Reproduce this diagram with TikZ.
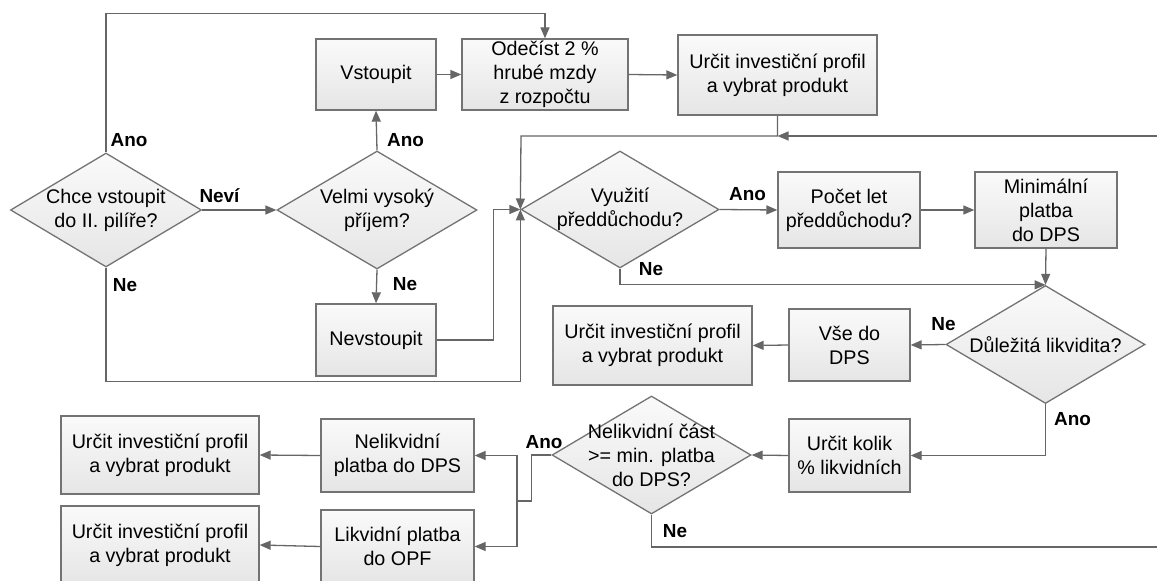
\documentclass[tikz,border=0pt]{standalone}
\usepackage{fontspec}
\setmainfont{Liberation Sans}
\usetikzlibrary{positioning, shapes.geometric, arrows.meta}
\definecolor{frame}{HTML}{737373}
\definecolor{wire}{HTML}{666666}

\begin{document}
\begin{tikzpicture}[x=1bp, y=-1bp, line width=1.3bp, >={Triangle[length=11bp, width=9bp]},
  every node/.style={font=\fontsize{19.8}{24}\selectfont},
  box/.style = {draw=frame, top color=white!98!black, bottom color=white!90!black, align=center, inner sep=0pt},
  dec/.style = {draw=frame, diamond, top color=white!98!black, bottom color=white!90!black, inner sep=0pt, minimum width=199bp, minimum height=118bp},
  lab/.style = {font=\fontsize{19}{20}\selectfont\bfseries, inner sep=0pt},
  wire/.style = {draw=wire}]
\clip (0,0) rectangle (1157,581);

% first decision
\node[dec, minimum width=191bp, minimum height=114bp, label={[align=center]center:{Chce vstoupit\\do II. pilíře?}}] (chce) at (106,210) {};
\node[dec, minimum width=200bp, label={[align=center]center:{Velmi vysoký\\příjem?}}] (prijem) at (377,210) {};
\node[box, minimum width=120bp, minimum height=71bp] (vst) at (376,74.5) {Vstoupit};
\node[box, minimum width=120bp, minimum height=72bp] (nevst) at (376,340) {Nevstoupit};
\node[box, minimum width=166bp, minimum height=71bp] (odec) at (545,74.5) {Odečíst 2 \%\\hrubé mzdy\\z rozpočtu};
\node[box, minimum width=199bp, minimum height=80bp] (prof1) at (777.5,75) {Určit investiční profil\\a vybrat produkt};

% preddûchod
\node[dec, minimum width=198bp, minimum height=117bp, label={[align=center]center:{Využití\\předdůchodu?}}] (preddu) at (620,209.5) {};
\node[box, minimum width=142bp, minimum height=76bp] (pocet) at (849,210) {Počet let\\předdůchodu?};
\node[box, minimum width=142bp, minimum height=76bp] (minpl) at (1046,210) {Minimální\\platba\\do DPS};

% likvidita
\node[dec, label={[align=center]center:{Důležitá likvidita?}}] (likv) at (1045.5,344.5) {};
\node[box, minimum width=121bp, minimum height=72bp] (vse) at (849.5,345) {Vše do\\DPS};
\node[box, minimum width=199bp, minimum height=79bp] (prof2) at (652.5,345.5) {Určit investiční profil\\a vybrat produkt};
\node[box, minimum width=121bp, minimum height=73bp] (kolik) at (849.5,455.5) {Určit kolik\\\% likvidních};
\node[dec, label={[align=center]center:{Nelikvidní část\\>= min. platba\\do DPS?}}] (nelik) at (651.5,455) {};
\node[box, minimum width=153bp, minimum height=73bp] (nlpl) at (397.5,455.5) {Nelikvidní\\platba do DPS};
\node[box, minimum width=153bp, minimum height=73bp] (lkpl) at (397.5,546.5) {Likvidní platba\\do OPF};
\node[box, minimum width=198bp, minimum height=78bp] (prof3) at (160,455) {Určit investiční profil\\a vybrat produkt};
\node[box, minimum width=198bp, minimum height=78bp] (prof4) at (160,545) {Určit investiční profil\\a vybrat produkt};

\coordinate (topc) at (521,136);
\coordinate (re1) at (1157,136);
\coordinate (re2) at (1157,547);
\coordinate (jn) at (517,501);

\draw[wire, ->] (chce.north) -- ++(0,-139) -| (odec.north);
\draw[wire, ->] (chce.east) -- (prijem.west);
\draw[wire, ->] (chce.south) -- ++(0,114) -| (preddu.west);
\draw[wire, ->] (prijem.north) -- (vst.south);
\draw[wire, ->] (prijem.south) -- (nevst.north);
\draw[wire, ->] (vst.east) -- (odec.west);
\draw[wire, ->] (odec.east) -- (prof1.west);
\draw[wire, ->] (prof1.south) |- (topc) -- (preddu.west);
\draw[wire, ->] (re1) -- (prof1.south |- re1);
\draw[wire, ->] (nevst.east) -- ++(57,0) |- (preddu.west);
\draw[wire, ->] (preddu.east) -- (pocet.west);
\draw[wire, ->] (pocet.east) -- (minpl.west);
\draw[wire, ->] (preddu.south) |- (likv.north);
\draw[wire, ->] (minpl.south) -- (likv.north);
\draw[wire, ->] (likv.west) -- (vse.east);
\draw[wire, ->] (vse.west) -- (prof2.east);
\draw[wire, ->] (likv.south) |- (kolik.east);
\draw[wire, ->] (kolik.west) -- (nelik.east);
\draw[wire] (nelik.west) -- ++(-20,0) |- (jn);
\draw[wire, ->] (jn) |- (nlpl.east);
\draw[wire, ->] (jn) |- (lkpl.east);
\draw[wire] (nelik.south) |- (re2);
\draw[wire, ->] (nlpl.west) -- (prof3.east);
\draw[wire, ->] (lkpl.west) -- (prof4.east);

\node[lab] (l1) at (129,140) {Ano};
\node[lab] (l2) at (219.5,196) {Neví};
\node[lab] (l3) at (125,285) {Ne};
\node[lab] (l4) at (405.5,140.5) {Ano};
\node[lab] (l5) at (405,284) {Ne};
\node[lab] (l6) at (747.5,194) {Ano};
\node[lab] (l7) at (651,269) {Ne};
\node[lab] (l8) at (943.5,324) {Ne};
\node[lab] (l9) at (1072.5,419) {Ano};
\node[lab] (l10) at (544,442.5) {Ano};
\node[lab] (l11) at (675,531) {Ne};

\end{tikzpicture}
\end{document}
